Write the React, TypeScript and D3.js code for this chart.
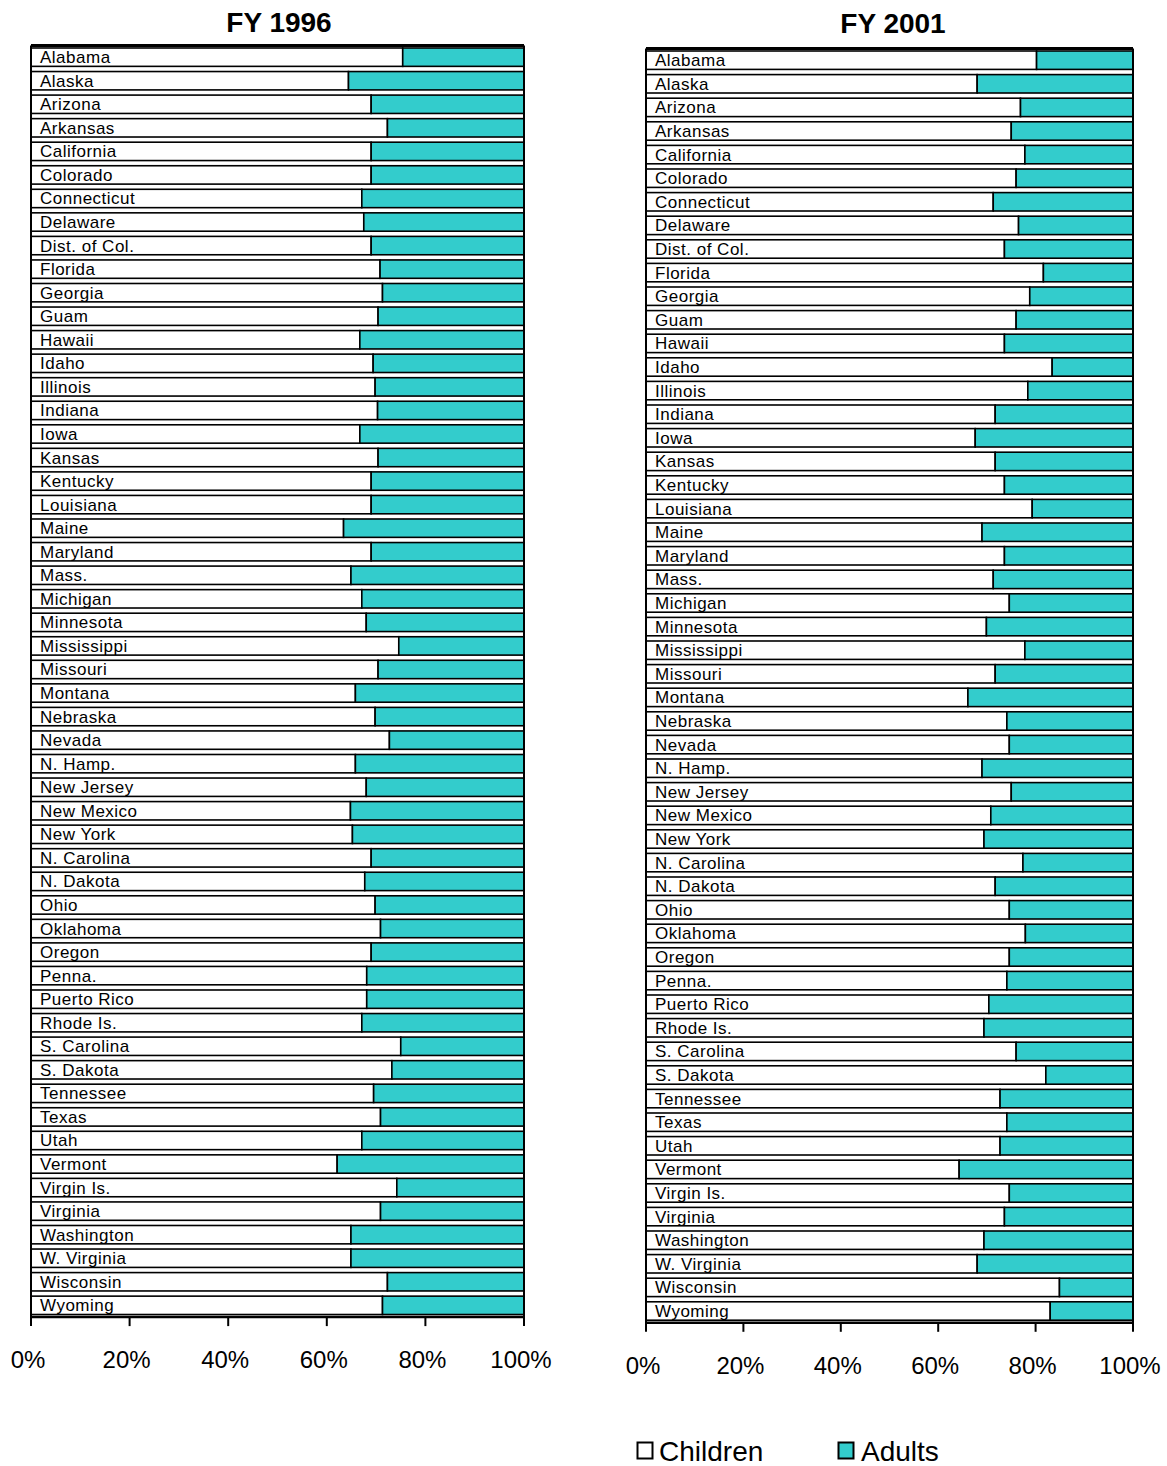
import React from "react";
import * as d3 from "d3";

const states = [
  "Alabama", "Alaska", "Arizona", "Arkansas", "California", "Colorado", "Connecticut", "Delaware",
  "Dist. of Col.", "Florida", "Georgia", "Guam", "Hawaii", "Idaho", "Illinois", "Indiana", "Iowa",
  "Kansas", "Kentucky", "Louisiana", "Maine", "Maryland", "Mass.", "Michigan", "Minnesota",
  "Mississippi", "Missouri", "Montana", "Nebraska", "Nevada", "N. Hamp.", "New Jersey",
  "New Mexico", "New York", "N. Carolina", "N. Dakota", "Ohio", "Oklahoma", "Oregon", "Penna.",
  "Puerto Rico", "Rhode Is.", "S. Carolina", "S. Dakota", "Tennessee", "Texas", "Utah", "Vermont",
  "Virgin Is.", "Virginia", "Washington", "W. Virginia", "Wisconsin", "Wyoming",
];

const children1996 = [
  75.4, 64.4, 69.0, 72.3, 69.0, 69.0, 67.1, 67.5, 69.0, 70.8, 71.3, 70.4,
  66.7, 69.4, 69.8, 70.3, 66.7, 70.4, 69.0, 69.0, 63.4, 69.0, 64.9, 67.1,
  68.0, 74.6, 70.4, 65.8, 69.8, 72.7, 65.8, 68.0, 64.8, 65.2, 69.0, 67.7,
  69.8, 70.9, 69.0, 68.1, 68.1, 67.1, 75.0, 73.2, 69.5, 70.9, 67.1, 62.1,
  74.2, 70.9, 64.9, 64.9, 72.3, 71.3,
];
const adults1996 = [
  24.6, 35.6, 31.0, 27.7, 31.0, 31.0, 32.9, 32.5, 31.0, 29.2, 28.7, 29.6,
  33.3, 30.6, 30.2, 29.7, 33.3, 29.6, 31.0, 31.0, 36.6, 31.0, 35.1, 32.9,
  32.0, 25.4, 29.6, 34.2, 30.2, 27.3, 34.2, 32.0, 35.2, 34.8, 31.0, 32.3,
  30.2, 29.1, 31.0, 31.9, 31.9, 32.9, 25.0, 26.8, 30.5, 29.1, 32.9, 37.9,
  25.8, 29.1, 35.1, 35.1, 27.7, 28.7,
];
const children2001 = [
  80.2, 68.0, 76.9, 75.0, 77.8, 76.0, 71.3, 76.5, 73.6, 81.6, 78.8, 76.0,
  73.6, 83.4, 78.4, 71.7, 67.6, 71.7, 73.6, 79.3, 69.0, 73.6, 71.3, 74.6,
  69.9, 77.8, 71.7, 66.1, 74.1, 74.6, 69.0, 75.0, 70.8, 69.4, 77.4, 71.7,
  74.6, 77.9, 74.6, 74.1, 70.4, 69.4, 76.0, 82.1, 72.7, 74.1, 72.7, 64.3,
  74.6, 73.6, 69.4, 68.0, 84.9, 83.0,
];
const adults2001 = [
  19.8, 32.0, 23.1, 25.0, 22.2, 24.0, 28.7, 23.5, 26.4, 18.4, 21.2, 24.0,
  26.4, 16.6, 21.6, 28.3, 32.4, 28.3, 26.4, 20.7, 31.0, 26.4, 28.7, 25.4,
  30.1, 22.2, 28.3, 33.9, 25.9, 25.4, 31.0, 25.0, 29.2, 30.6, 22.6, 28.3,
  25.4, 22.1, 25.4, 25.9, 29.6, 30.6, 24.0, 17.9, 27.3, 25.9, 27.3, 35.7,
  25.4, 26.4, 30.6, 32.0, 15.1, 17.0,
];

const seriesKeys = ["Children", "Adults"];
const tickValues = [0, 0.2, 0.4, 0.6, 0.8, 1];
const TEAL = "#33cccc";
const colors: Record<string, string> = { Children: "#ffffff", Adults: TEAL };

type PanelProps = {
  title: string;
  children: number[];
  adults: number[];
  x0: number;
  x1: number;
  top: number;
  step: number;
  titleX: number;
  titleY: number;
};

function Panel({ title, children, adults, x0, x1, top, step, titleX, titleY }: PanelProps) {
  const rows = states.map((s, i) => ({ state: s, Children: children[i], Adults: adults[i] }));
  const stacked = d3.stack<any>().keys(seriesKeys).offset(d3.stackOffsetExpand)(rows);
  const bottom = top + step * states.length;
  const x = d3.scaleLinear().domain([0, 1]).range([x0, x1]);
  const y = d3.scaleBand<string>().domain(states).range([top, bottom]).paddingInner(0.22).paddingOuter(0.11);
  const fmt = d3.format(".0%");
  return (
    <g>
      <text x={titleX} y={titleY} textAnchor="middle" fontFamily="Liberation Sans, Arial, sans-serif"
        fontWeight="bold" fontSize={28}>{title}</text>
      {stacked.map((layer) => (
        <g key={layer.key}>
          {layer.map((d, i) => (
            <rect key={i} x={x(d[0])} y={y(states[i])} width={x(d[1]) - x(d[0])} height={y.bandwidth()}
              fill={colors[layer.key]} stroke="#000" strokeWidth={1.6} />
          ))}
        </g>
      ))}
      {states.map((s) => (
        <text key={s} x={x0 + 9} y={(y(s) as number) + y.bandwidth() / 2 + 6} fontFamily="Liberation Sans, Arial, sans-serif"
          fontSize={17} letterSpacing={0.5} fill="#000">{s}</text>
      ))}
      <line x1={x0} x2={x1} y1={top} y2={top} stroke="#000" strokeWidth={3} />
      <line x1={x0} x2={x0} y1={top} y2={bottom} stroke="#000" strokeWidth={2} />
      <line x1={x1} x2={x1} y1={top} y2={bottom} stroke="#000" strokeWidth={2} />
      <line x1={x0 - 1} x2={x1 + 1} y1={bottom} y2={bottom} stroke="#000" strokeWidth={2.5} />
      {tickValues.map((t) => (
        <g key={t}>
          <line x1={x(t)} x2={x(t)} y1={bottom} y2={bottom + 9} stroke="#000" strokeWidth={2} />
          <text x={x(t) - 3} y={bottom + 51} textAnchor="middle" fontFamily="Liberation Sans, Arial, sans-serif"
            fontSize={24} fill="#000">{fmt(t)}</text>
        </g>
      ))}
    </g>
  );
}

export default function App() {
  return (
    <svg width={1167} height={1466} style={{ display: "block", position: "absolute", left: 0, top: 0 }}>
      <rect width={1167} height={1466} fill="#fff" />
      <Panel title="FY 1996" children={children1996} adults={adults1996} x0={31} x1={524} top={45.4} step={23.55} titleX={279} titleY={32} />
      <Panel title="FY 2001" children={children2001} adults={adults2001} x0={646} x1={1133} top={48.4} step={23.6} titleX={893} titleY={33} />
      <g fontFamily="Liberation Sans, Arial, sans-serif" fontSize={28}>
        <rect x={637.5} y={1442.5} width={15} height={16} fill="#fff" stroke="#000" strokeWidth={2} />
        <text x={659} y={1461}>Children</text>
        <rect x={838.5} y={1442.5} width={15} height={16} fill={TEAL} stroke="#000" strokeWidth={2} />
        <text x={861} y={1461}>Adults</text>
      </g>
    </svg>
  );
}
